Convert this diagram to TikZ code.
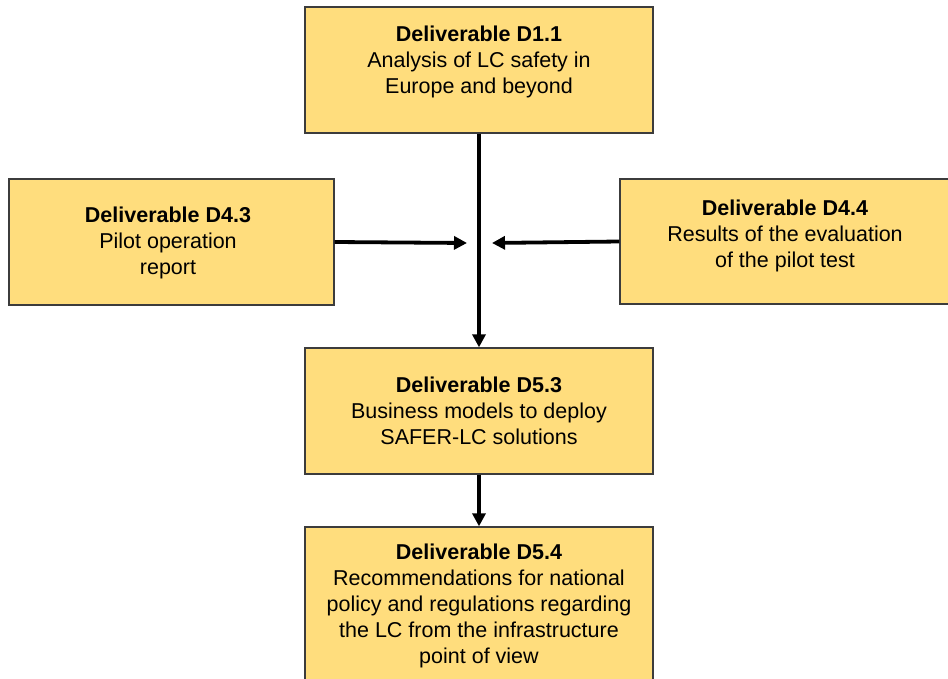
\documentclass[tikz,border=0pt]{standalone}
\usepackage{fontspec}
\setmainfont{Liberation Sans}
\usetikzlibrary{arrows.meta}
\definecolor{delivfill}{RGB}{255,221,125}
\definecolor{delivedge}{RGB}{60,60,60}

\begin{document}
\begin{tikzpicture}[x=1pt,y=-1pt]
\tikzstyle{every node}+=[inner sep=0pt]
\tikzstyle{deliv}=[draw=delivedge, fill=delivfill, line width=1.3pt]
\tikzstyle{delivtext}=[align=center, font=\fontsize{21.5}{26}\selectfont]
\tikzstyle{flow}=[line width=3.8pt, -{Triangle[length=13pt,width=13pt]}]
\useasboundingbox (0,0) rectangle (948,679);
\node [deliv, minimum width=348pt, minimum height=126pt] (d11) at (479,70) {};
\node [delivtext] (t11) at (479,62) {\textbf{Deliverable D1.1}\\Analysis of LC safety in\\Europe and beyond};
\node [deliv, minimum width=325pt, minimum height=126pt] (d43) at (171.5,242) {};
\node [delivtext] (t43) at (168,243) {\textbf{Deliverable D4.3}\\Pilot operation\\report};
\node [deliv, minimum width=330pt, minimum height=125pt] (d44) at (785,241.5) {};
\node [delivtext] (t44) at (785,236) {\textbf{Deliverable D4.4}\\Results of the evaluation\\of the pilot test};
\node [deliv, minimum width=348pt, minimum height=126pt] (d53) at (479,411) {};
\node [delivtext] (t53) at (479,411) {\textbf{Deliverable D5.3}\\Business models to deploy\\SAFER-LC solutions};
\node [deliv, minimum width=348pt, minimum height=156pt] (d54) at (479,605) {};
\node [delivtext] (t54) at (479,606) {\textbf{Deliverable D5.4}\\Recommendations for national\\policy and regulations regarding\\the LC from the infrastructure\\point of view};
\coordinate (ml) at (467,243);
\coordinate (mr) at (492,243);
\draw [flow] (d11.south) -- (d53.north);
\draw [flow] (d43.east) -- (ml);
\draw [flow] (d44.west) -- (mr);
\draw [flow] (d53.south) -- (d54.north);
\end{tikzpicture}
\end{document}
